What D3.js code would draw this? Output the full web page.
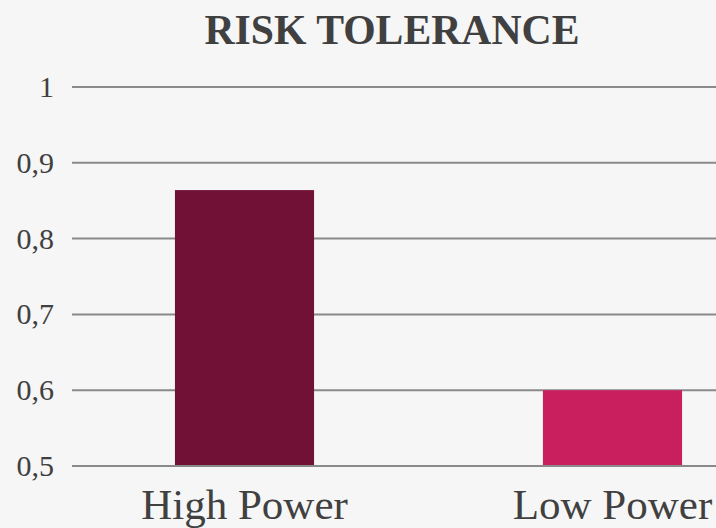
<!DOCTYPE html>
<html>
<head>
<meta charset="utf-8">
<script src="https://cdn.jsdelivr.net/npm/d3@7/dist/d3.min.js"></script>
<style>
  html, body { margin: 0; padding: 0; background: #f6f6f6; }
  svg { display: block; }
  text { font-family: "Liberation Serif", "DejaVu Serif", serif; fill: #404040; }
</style>
</head>
<body>
<svg id="chart" width="716" height="528"></svg>
<script>
// Chart data
const categories = ["High Power", "Low Power"];
const values = [0.864, 0.6];
const barColors = ["#721136", "#c91f5f"];
const yTicks = [0.5, 0.6, 0.7, 0.8, 0.9, 1];
const yTickLabels = ["0,5", "0,6", "0,7", "0,8", "0,9", "1"];
const title = "RISK TOLERANCE";

const W = 716, H = 528;
const svg = d3.select("#chart");

svg.append("rect").attr("width", W).attr("height", H).attr("fill", "#f6f6f6");

const y = d3.scaleLinear().domain([0.5, 1]).range([466, 87]);
const x = d3.scaleBand()
  .domain(categories)
  .range([60.5, 796.5])
  .paddingInner(0.622)
  .paddingOuter(0.311);

const gridLeft = 72, gridRight = 716;

// Horizontal gridlines
svg.append("g")
  .selectAll("line")
  .data(yTicks)
  .join("line")
  .attr("x1", gridLeft)
  .attr("x2", gridRight)
  .attr("y1", d => y(d))
  .attr("y2", d => y(d))
  .attr("stroke", "#8a8a8a")
  .attr("stroke-width", 2);

// Y tick labels
svg.append("g")
  .selectAll("text")
  .data(yTicks)
  .join("text")
  .attr("x", 54)
  .attr("y", d => y(d) + 10)
  .attr("text-anchor", "end")
  .attr("font-size", 30)
  .text((d, i) => yTickLabels[i]);

// Bars
svg.append("g")
  .selectAll("rect")
  .data(categories)
  .join("rect")
  .attr("x", d => x(d))
  .attr("width", x.bandwidth())
  .attr("y", (d, i) => y(values[i]))
  .attr("height", (d, i) => y(0.5) - y(values[i]) - 1)
  .attr("fill", (d, i) => barColors[i]);

// Category labels
svg.append("g")
  .selectAll("text")
  .data(categories)
  .join("text")
  .attr("x", d => x(d) + x.bandwidth() / 2)
  .attr("y", 519)
  .attr("text-anchor", "middle")
  .attr("font-size", 43)
  .text(d => d);

// Title
svg.append("text")
  .attr("x", 392)
  .attr("y", 44)
  .attr("text-anchor", "middle")
  .attr("font-size", 43)
  .attr("font-weight", "bold")
  .attr("textLength", 375)
  .attr("lengthAdjust", "spacingAndGlyphs")
  .text(title);
</script>
</body>
</html>
